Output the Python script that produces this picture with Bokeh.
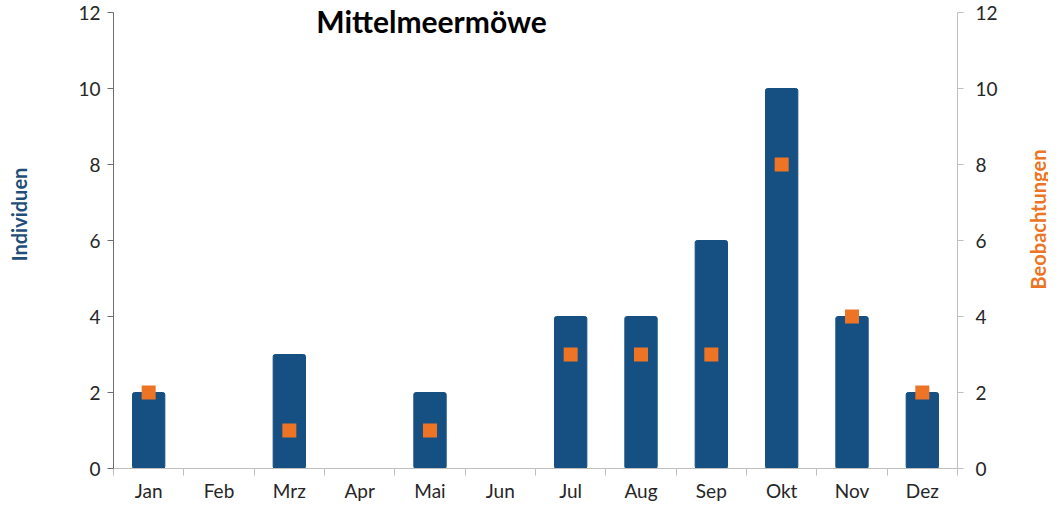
import math
from bokeh.plotting import figure
from bokeh.models import Range1d, LinearAxis, FixedTicker, Label
from bokeh.embed import file_html
from bokeh.resources import INLINE

# ---- data ----
months = ["Jan", "Feb", "Mrz", "Apr", "Mai", "Jun", "Jul", "Aug", "Sep", "Okt", "Nov", "Dez"]
individuen = [2, 0, 3, 0, 2, 0, 4, 4, 6, 10, 4, 2]
beobachtungen = [2, None, 1, None, 1, None, 3, 3, 3, 8, 4, 2]
y_ticks = [0, 2, 4, 6, 8, 10, 12]
title_text = "Mittelmeermöwe"
left_label = "Individuen"
right_label = "Beobachtungen"

# ---- style / layout ----
BLUE = "#165082"
BLUE_TXT = "#1f4e79"
ORANGE = "#ec7424"
FONT = "Lato"
TXT = "#262626"

W, H = 1048, 505
AX_L, AX_R = 113, 957      # pixel x of left / right value axes
AX_T, AX_B = 12, 468       # pixel y of the top tick (12) and the baseline (0)
Y_MAX = max(y_ticks)

n = len(months)
xs = list(range(1, n + 1))
obs_x = [x for x, v in zip(xs, beobachtungen) if v is not None]
obs_y = [v for v in beobachtungen if v is not None]

xppu = (AX_R - AX_L) / n
yppu = (AX_B - AX_T) / Y_MAX


def px2x(px):
    return 0.5 + (px - AX_L) / xppu


def px2y(py):
    return (AX_B - py) / yppu


p = figure(width=W, height=H, output_backend="svg", toolbar_location=None,
           x_range=Range1d(px2x(0), px2x(W)), y_range=Range1d(px2y(H), px2y(0)),
           min_border=0, min_border_left=0, min_border_right=0,
           min_border_top=0, min_border_bottom=0)
p.extra_y_ranges = {"right": Range1d(px2y(H), px2y(0))}
p.outline_line_color = None
p.xgrid.visible = False
p.ygrid.visible = False

p.vbar(x=xs, top=individuen, width=0.46, fill_color=BLUE, line_color=BLUE, line_width=1,
       border_radius=2)
p.scatter(x=obs_x, y=obs_y, marker="square", size=14, fill_color=ORANGE, line_color=None,
          y_range_name="right")

# x axis at y = 0
xa = p.xaxis[0]
xa.fixed_location = 0
xa.bounds = (0.5, n + 0.5)
xa.ticker = FixedTicker(ticks=xs, minor_ticks=[i + 0.5 for i in range(0, n + 1)])
xa.major_label_overrides = {x: m for x, m in zip(xs, months)}
xa.major_tick_line_color = None
xa.major_tick_out = 0
xa.major_tick_in = 0
xa.minor_tick_out = 7
xa.minor_tick_in = 0
xa.minor_tick_line_color = "#bfbfbf"
xa.axis_line_color = "#bfbfbf"
xa.major_label_standoff = 3
xa.major_label_text_font = FONT
xa.major_label_text_font_size = "19px"
xa.major_label_text_color = TXT

# left y axis
ya = p.yaxis[0]
ya.fixed_location = 0.5
ya.bounds = (0, Y_MAX)
ya.ticker = FixedTicker(ticks=y_ticks)
ya.minor_tick_line_color = None
ya.major_tick_out = 6
ya.major_tick_in = 0
ya.axis_line_color = "#6d6d6d"
ya.major_tick_line_color = "#6d6d6d"
ya.major_label_standoff = 7
ya.major_label_text_font = FONT
ya.major_label_text_font_size = "19px"
ya.major_label_text_color = TXT

# right y axis
ra = LinearAxis(y_range_name="right", ticker=FixedTicker(ticks=y_ticks))
ra.fixed_location = n + 0.5
ra.bounds = (0, Y_MAX)
ra.minor_tick_line_color = None
ra.major_tick_out = 6
ra.major_tick_in = 0
ra.axis_line_color = "#bfbfbf"
ra.major_tick_line_color = "#bfbfbf"
ra.major_label_standoff = 12
ra.major_label_text_font = FONT
ra.major_label_text_font_size = "19px"
ra.major_label_text_color = TXT
p.add_layout(ra, "right")

# axis titles and chart title
p.add_layout(Label(x=px2x(18), y=px2y(214), text=left_label, angle=math.pi / 2,
                   text_align="center", text_baseline="middle", text_font=FONT,
                   text_font_size="20px", text_font_style="bold", text_color=BLUE_TXT))
p.add_layout(Label(x=px2x(1037), y=px2y(219), text=right_label, angle=math.pi / 2,
                   text_align="center", text_baseline="middle", text_font=FONT,
                   text_font_size="20px", text_font_style="bold", text_color=ORANGE))
p.add_layout(Label(x=px2x(431), y=px2y(20), text=title_text, text_align="center",
                   text_baseline="middle", text_font=FONT, text_font_size="30px",
                   text_font_style="bold", text_color="black"))

open("out.html", "w").write(file_html(p, INLINE))
